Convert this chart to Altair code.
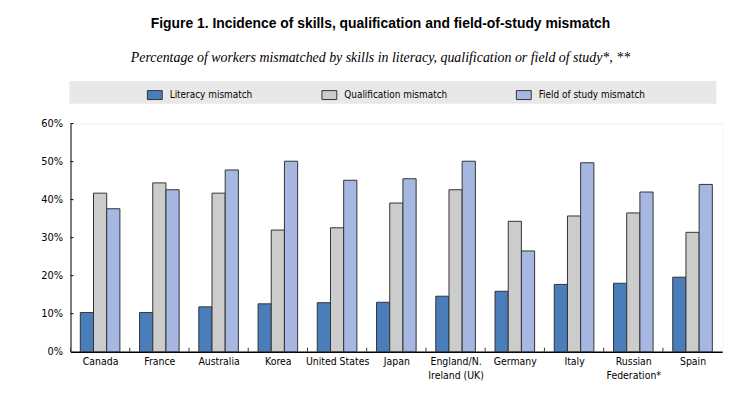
import altair as alt
import pandas as pd

countries = ["Canada", "France", "Australia", "Korea", "United States", "Japan",
             "England/N. Ireland (UK)", "Germany", "Italy", "Russian Federation*", "Spain"]
literacy = [10.3, 10.3, 11.8, 12.6, 12.9, 13.0, 14.6, 15.9, 17.7, 18.0, 19.6]
qualification = [41.7, 44.4, 41.7, 32.0, 32.6, 39.1, 42.6, 34.3, 35.7, 36.5, 31.4]
field = [37.6, 42.6, 47.8, 50.1, 45.1, 45.5, 50.1, 26.5, 49.7, 42.0, 44.0]
series = ["Literacy mismatch", "Qualification mismatch", "Field of study mismatch"]
colors = ["#4a7ebb", "#cccccc", "#a6b8e2"]
y_ticks = [0, 10, 20, 30, 40, 50, 60]

rows = []
for i, c in enumerate(countries):
    for s, vals in zip(series, [literacy, qualification, field]):
        rows.append({"country": c, "series": s, "value": vals[i]})
df = pd.DataFrame(rows)

FONT = "Liberation Sans Narrow, DejaVu Sans Condensed, Liberation Sans, Arial"
W, H = 657, 230

label_expr = ("datum.label == 'England/N. Ireland (UK)' ? ['England/N.', 'Ireland (UK)'] : "
              "datum.label == 'Russian Federation*' ? ['Russian', 'Federation*'] : datum.label")

x_axis = alt.Axis(title=None, labelAngle=0, tickBand="extent", ticks=False,
                  grid=True, gridColor="#ffffff", gridWidth=1,
                  domainColor="#000000", domainWidth=1.5,
                  labelExpr=label_expr, labelFont=FONT, labelFontSize=10.5,
                  labelColor="#000000", labelPadding=5, labelLineHeight=14)
x_scale = alt.Scale(paddingInner=0, paddingOuter=0)

y_scale = alt.Scale(domain=[0, 60])
y_axis = alt.Axis(title=None, values=y_ticks, labelExpr="datum.value + '%'",
                  ticks=False, grid=True, gridColor="#ffffff", gridWidth=1,
                  domainColor="#000000", labelFont=FONT, labelFontSize=11,
                  labelColor="#000000", labelPadding=8)

band = alt.Chart(pd.DataFrame({"k": [0]})).mark_rect(color="#e8e8e8").encode(
    x=alt.value(-1), x2=alt.value(W - 6), y=alt.value(-43), y2=alt.value(-20))

bars = alt.Chart(df).mark_bar(stroke="#333333", strokeWidth=1).encode(
    x=alt.X("country:N", sort=countries, scale=x_scale, axis=x_axis),
    xOffset=alt.XOffset("series:N", sort=series,
                        scale=alt.Scale(paddingOuter=0.745, paddingInner=0)),
    y=alt.Y("value:Q", scale=y_scale, axis=y_axis),
    color=alt.Color("series:N", sort=series,
                    scale=alt.Scale(domain=series, range=colors),
                    legend=alt.Legend(title=None, orient="none", legendX=77, legendY=-37,
                                      direction="horizontal", columns=3,
                                      symbolType="M-1,-0.6L1,-0.6L1,0.6L-1,0.6Z",
                                      symbolSize=225, symbolStrokeColor="#333333",
                                      symbolStrokeWidth=1, symbolOpacity=1,
                                      labelFont=FONT, labelFontSize=10, labelColor="#000000",
                                      labelOffset=7, columnPadding=67, zindex=1)),
)

xticks = alt.Chart(pd.DataFrame({"country": countries})).mark_rule(color="#333333").encode(
    x=alt.X("country:N", sort=countries, scale=x_scale, axis=x_axis, bandPosition=0),
    y=alt.value(H - 4), y2=alt.value(H))

yticks = alt.Chart(pd.DataFrame({"value": y_ticks[1:]})).mark_rule(color="#000000").encode(
    y=alt.Y("value:Q", scale=y_scale, axis=y_axis), x=alt.value(0), x2=alt.value(3))

chart = alt.layer(band, bars, xticks, yticks).properties(
    width=W, height=H,
    title=alt.TitleParams(
        text="Figure 1. Incidence of skills, qualification and field-of-study mismatch",
        subtitle="Percentage of workers mismatched by skills in literacy, qualification or field of study*, **",
        anchor="middle", dx=-16, offset=16, subtitlePadding=20,
        font="Liberation Sans", fontSize=14, fontWeight="bold", color="#000000",
        subtitleFont="Liberation Serif", subtitleFontSize=14, subtitleFontStyle="italic",
        subtitleColor="#000000"),
    padding={"left": 63, "top": 115, "right": 20, "bottom": 30},
    autosize=alt.AutoSizeParams(type="none"),
).configure_view(fill="#f1fbfd", stroke="#555555", strokeWidth=1.5).configure(background="#ffffff")

chart.save("out.html", embed_options={"renderer": "svg", "actions": False})
